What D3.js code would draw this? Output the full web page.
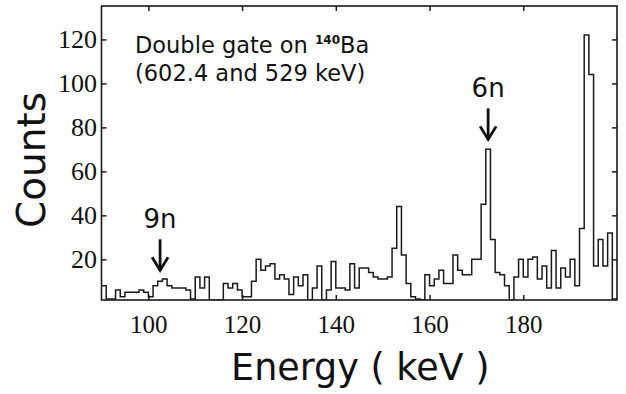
<!DOCTYPE html>
<html>
<head>
<meta charset="utf-8">
<script src="https://cdn.jsdelivr.net/npm/d3@7"></script>
<style>
  body { margin: 0; background: #fff; }
  svg { display: block; }
</style>
</head>
<body>
<div id="chart"></div>
<script>
// 1 keV bins, 90 .. 199 keV
const binStart = 90;
const binWidth = 1;
const counts = [
  8, 2, 2, 6, 3, 5, 5, 5, 6, 5,          // 90-99
  3, 8, 10, 11, 8, 7, 7, 7, 6, 2,        // 100-109
  12, 7, 12, 1, 0, 0, 9, 7, 9, 6,        // 110-119
  3, 3, 10, 20, 15, 17, 18, 11, 13, 11,  // 120-129
  4, 12, 8, 13, 1, 7, 17, 1, 6, 19,      // 130-139
  7, 7, 6, 18, 7, 16, 16, 14, 12, 11,    // 140-149
  11, 12, 25, 44, 22, 9, 3, 2, 1, 13,    // 150-159
  8, 11, 15, 9, 9, 22, 15, 13, 13, 20,   // 160-169
  20, 45, 70, 29, 14, 13, 8, 1, 12, 20,  // 170-179
  12, 20, 21, 11, 17, 7, 24, 7, 16, 12,  // 180-189
  20, 8, 34, 122, 104, 17, 29, 17, 32, 2 // 190-199
];
const xTicks = [100, 120, 140, 160, 180];
const yTicks = [20, 40, 60, 80, 100, 120];
const annotations = [
  { label: "9n", energy: 102.5 },
  { label: "6n", energy: 172.5 }
];

const width = 626, height = 394;
const margin = { top: 6, right: 9, bottom: 94, left: 101.5 };
const plotW = width - margin.left - margin.right;
const plotH = height - margin.top - margin.bottom;

const x = d3.scaleLinear().domain([90, 200]).range([0, plotW]);
const y = d3.scaleLinear().domain([1.5, 135.2]).range([plotH, 0]);

const svg = d3.select("#chart").append("svg")
  .attr("width", width)
  .attr("height", height);

const g = svg.append("g")
  .attr("transform", `translate(${margin.left},${margin.top})`);

g.append("clipPath").attr("id", "plot-clip")
  .append("rect").attr("width", plotW).attr("height", plotH);

// histogram as a step line
const pts = counts.map((c, i) => [binStart + i * binWidth, c]);
pts.push([binStart + counts.length * binWidth, counts[counts.length - 1]]);

const line = d3.line()
  .curve(d3.curveStepAfter)
  .x(d => x(d[0]))
  .y(d => y(Math.max(d[1], 1.5)));

g.append("path")
  .attr("clip-path", "url(#plot-clip)")
  .attr("d", line(pts))
  .attr("fill", "none")
  .attr("stroke", "#1a1a1a")
  .attr("stroke-width", 1.5);

// axes, ticks pointing inward
const tickFont = "'Liberation Serif', 'Times New Roman', serif";

const xAxis = g.append("g")
  .attr("transform", `translate(0,${plotH})`)
  .call(d3.axisBottom(x).tickValues(xTicks).tickSize(-5).tickSizeOuter(0));
xAxis.selectAll("text")
  .attr("y", 33).attr("dy", 0)
  .style("font-family", tickFont).style("font-size", "25px").attr("fill", "#111");

const xTop = g.append("g")
  .call(d3.axisTop(x).tickValues(xTicks).tickSize(-5).tickSizeOuter(0).tickFormat(""));

const yAxis = g.append("g")
  .call(d3.axisLeft(y).tickValues(yTicks).tickSize(-5).tickSizeOuter(0).tickPadding(5));
yAxis.selectAll("text")
  .attr("x", -4.5)
  .style("font-family", tickFont).style("font-size", "26px").attr("fill", "#111");

const yRight = g.append("g")
  .attr("transform", `translate(${plotW},0)`)
  .call(d3.axisRight(y).tickValues(yTicks).tickSize(-5).tickSizeOuter(0).tickFormat(""));

[xAxis, xTop, yAxis, yRight].forEach(a => {
  a.select(".domain").remove();
  a.selectAll("line").attr("stroke", "#1a1a1a").attr("stroke-width", 1.5);
});

g.append("rect")
  .attr("width", plotW).attr("height", plotH)
  .attr("fill", "none").attr("stroke", "#1a1a1a").attr("stroke-width", 1.6);

// labels
const sans = "'DejaVu Sans', sans-serif";

svg.append("text")
  .attr("x", margin.left + plotW / 2 + 1)
  .attr("y", 380)
  .attr("text-anchor", "middle")
  .style("font-family", sans).style("font-size", "36.5px")
  .attr("fill", "#111")
  .text("Energy ( keV )");

svg.append("text")
  .attr("transform", "translate(45,160) rotate(-90)")
  .attr("text-anchor", "middle")
  .style("font-family", sans).style("font-size", "39px")
  .attr("fill", "#111")
  .text("Counts");

const note = svg.append("g").style("font-family", sans).attr("fill", "#111");
const l1 = note.append("text").attr("x", 135).attr("y", 53).style("font-size", "22.5px");
l1.append("tspan").text("Double gate on ");
l1.append("tspan").attr("dy", -9).style("font-size", "12px").style("font-weight", "bold").text("140");
l1.append("tspan").attr("dy", 9).text("Ba");
note.append("text").attr("x", 135).attr("y", 81).style("font-size", "22.5px")
  .text("(602.4 and 529 keV)");

// peak markers
annotations.forEach(a => {
  const i = Math.floor(a.energy) - binStart;
  const top = y(counts[i]) + margin.top;
  const cx = margin.left + x(a.energy);
  const tip = a.label === "6n" ? top - 9 : top - 10;
  const mk = svg.append("g").attr("fill", "none").attr("stroke", "#111")
    .attr("stroke-width", 2.8).attr("stroke-linecap", "butt");
  mk.append("path").attr("d", `M${cx},${tip - 32}V${tip - 1}`);
  mk.append("path").attr("d", `M${cx - 8},${tip - 14}L${cx},${tip - 1}L${cx + 8},${tip - 14}`)
    .attr("stroke-linejoin", "miter");
  svg.append("text")
    .attr("x", cx).attr("y", tip - 43)
    .attr("text-anchor", "middle")
    .style("font-family", sans).style("font-size", "26px")
    .attr("fill", "#111")
    .text(a.label);
});
</script>
</body>
</html>
